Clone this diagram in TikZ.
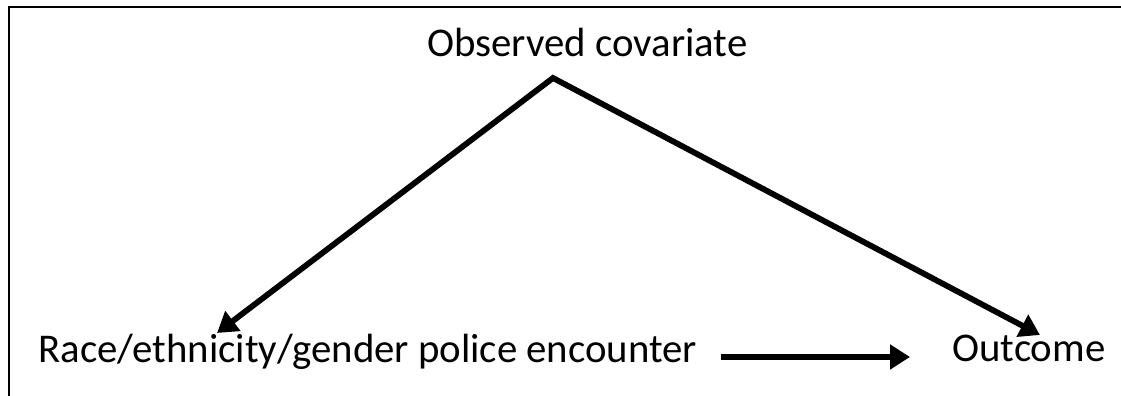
\documentclass[tikz,border=0pt]{standalone}
\usepackage{fontspec}
\setmainfont{Carlito}
\usepackage{tikz}
\usetikzlibrary{arrows.meta,calc}
\tikzset{
  var/.style={
    inner sep = 0pt,
    anchor = base west,
    font = \fontsize{20.4}{24}\selectfont
  },
  effect/.style={
    line width = 2.9pt,
    -{Triangle[length=10pt,width=12pt]}
  },
  confound/.style={
    line width = 2.9pt,
    {Triangle[length=10pt,width=12pt]}-{Triangle[length=10pt,width=12pt]}
  }
}
\begin{document}
\begin{tikzpicture}[x=0.5pt,y=0.5pt]
  \useasboundingbox (0,0) rectangle (1121,396);
  % frame
  \draw[line width=1pt] (9,0) -- (9,389) -- (1121,389);
  \node[var] (cov) at (427,339) {Observed covariate};
  \node[var] (race) at (38,33) {Race/ethnicity/gender police encounter};
  \node[var] (outcome) at (952,34) {Outcome};
  \coordinate (apex) at (553,318);
  \coordinate (racetip) at (217,63);
  \coordinate (outtip) at (1040,61);
  \draw[confound] (racetip) -- (apex) -- (outtip);
  \draw[effect] ($(race.base east)+(23,6)$) -- ($(outcome.base west)+(-42,5)$);
\end{tikzpicture}
\end{document}
